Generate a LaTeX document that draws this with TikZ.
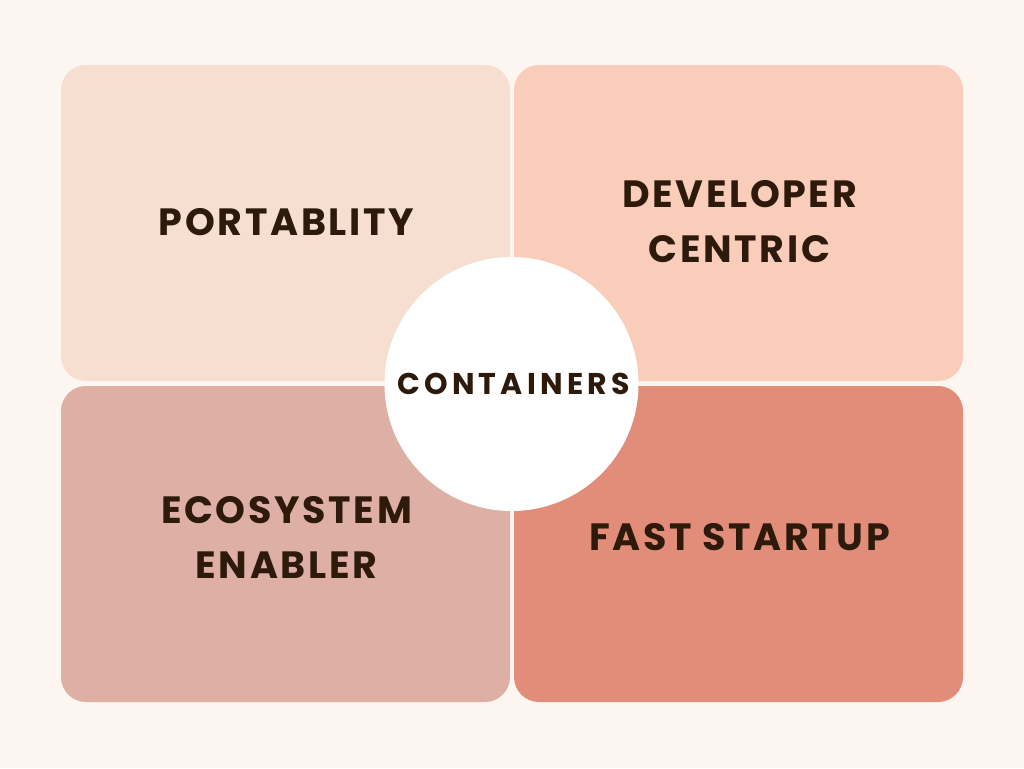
\documentclass[tikz,border=0pt]{standalone}
\usepackage{fontspec}
\setmainfont{Poppins}[UprightFont=* Bold, BoldFont=* Bold, LetterSpace=7]
\newfontfamily\spacedfont{Poppins}[UprightFont=* Bold, LetterSpace=14]
\definecolor{bgcol}{HTML}{FDF5EF}
\definecolor{tlcol}{HTML}{F6DFD0}
\definecolor{trcol}{HTML}{FACDBB}
\definecolor{blcol}{HTML}{DEAFA4}
\definecolor{brcol}{HTML}{E28D7A}
\definecolor{txtcol}{HTML}{2E1A0B}
\begin{document}
\begin{tikzpicture}[x=1pt,y=-1pt,
  panel/.style={rounded corners=25pt, draw=none},
  label/.style={text=txtcol, font=\fontsize{38}{55}\selectfont, align=center},
  hub/.style={circle, fill=white, minimum size=254pt, inner sep=0pt},
  hubtext/.style={text=txtcol, font=\spacedfont\fontsize{30}{34}\selectfont}]
\fill[bgcol] (0,0) rectangle (1024,768);
\useasboundingbox (0,0) rectangle (1024,768);
\fill[panel, tlcol] (61,65) rectangle (510,381);
\fill[panel, trcol] (514,65) rectangle (963,381);
\fill[panel, blcol] (61,386) rectangle (510,702);
\fill[panel, brcol] (514,386) rectangle (963,702);
\node[label] (tl) at (286.5,222) {PORTABLITY};
\node[label] (tr) at (739.5,222) {DEVELOPER\\CENTRIC};
\node[label] (bl) at (286.5,537) {ECOSYSTEM\\ENABLER};
\node[label] (br) at (739.5,537) {FAST STARTUP};
\node[hub] (c) at (511.5,384) {};
\node[hubtext, xshift=2pt] (ct) at (c.center) {CONTAINERS};
\end{tikzpicture}
\end{document}
